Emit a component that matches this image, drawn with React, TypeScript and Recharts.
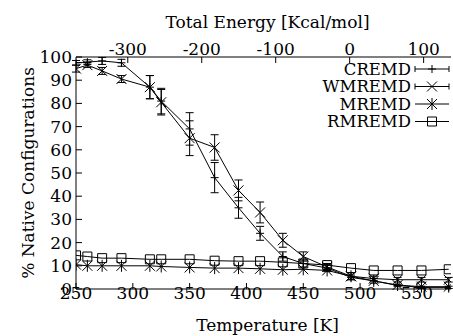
import React from 'react';
import { LineChart, Line, XAxis, YAxis, ErrorBar } from 'recharts';

const temps = [250, 260, 273, 290, 315, 325, 350, 372, 393, 412, 432, 450, 471, 492, 512, 533, 554, 578];
const cremd = [97.5, 97.8, 98.3, 97.5, 87, 81, 69, 48, 35, 24, 14, 11, 9, 5, 3.5, 1.5, 0.7, 0.7];
const cremdErr = [1, 1, 1.5, 1.5, 5, 5.5, 7, 6.5, 4.5, 3, 2, 1.5, 1.5, 1, 1, 0.5, 0.5, 0.5];
const wmremd = [95, 96.5, 94, 90.5, 87, 80.5, 65, 61, 42.5, 33, 21, 14, 9.5, 5.5, 4.5, 4, 4, 4];
const wmremdErr = [1.5, 1, 1.5, 1.5, 5, 5.5, 7.5, 5.5, 4.5, 4.5, 3, 2, 1.5, 1.5, 1, 1, 1, 1];
const mremd = [10.5, 10, 10, 10, 10, 9.7, 9.3, 9, 9, 8.7, 8.3, 8.5, 8, 5.5, 3.5, 1.7, 1, 1];
const rmremd = [14.5, 14, 13.3, 13.3, 12.8, 12.8, 12.8, 12.2, 12, 12, 11.5, 11, 10.3, 9, 8, 8, 8, 8.5];

const tempTicks = [250, 300, 350, 400, 450, 500, 550];
const energyTicks = [-300, -200, -100, 0, 100];
const pctTicks = [0, 10, 20, 30, 40, 50, 60, 70, 80, 90, 100];

// top energy axis spans roughly -370..137 kcal/mol across the 250..580 K range
const E_MIN = -370;
const E_MAX = 137;
const T_MIN = 250;
const T_MAX = 580;
const eToT = (e: number) => T_MIN + ((e - E_MIN) / (E_MAX - E_MIN)) * (T_MAX - T_MIN);
const energyTickPos = energyTicks.map(eToT);

const data = temps.map((t, i) => ({
  T: t,
  cremd: cremd[i],
  cremdErr: cremdErr[i],
  wmremd: wmremd[i],
  wmremdErr: wmremdErr[i],
  mremd: mremd[i],
  rmremd: rmremd[i],
}));

const FONT = 'DejaVu Serif';
const tickStyle = { fontFamily: FONT, fontSize: 17, fill: '#000' };

// marker shapes
const plusPath = (x: number, y: number) => `M${x - 4},${y}h8M${x},${y - 4}v8`;
const crossPath = (x: number, y: number) => `M${x - 5},${y - 5}l10,10M${x - 5},${y + 5}l10,-10`;
const starPath = (x: number, y: number) => `${crossPath(x, y)}M${x},${y - 6}v12`;
const squarePath = (x: number, y: number) => `M${x - 4.5},${y - 4.5}h9v9h-9z`;

const makeDot = (shape: (x: number, y: number) => string) => (p: any) => (
  <path key={`d-${p.index}`} d={shape(p.cx, p.cy)} stroke="#000" strokeWidth={1} fill="none" />
);

const legendRows = [
  { name: 'CREMD', shape: plusPath, caps: true },
  { name: 'WMREMD', shape: crossPath, caps: true },
  { name: 'MREMD', shape: starPath, caps: false },
  { name: 'RMREMD', shape: squarePath, caps: false },
];

const LegendBox = () => (
  <svg width={453} height={80} style={{ position: 'absolute', left: 0, top: 58, pointerEvents: 'none' }}>
    {legendRows.map((r, i) => {
      const y = 11 + i * 17.5;
      return (
        <g key={r.name}>
          <text x={411} y={y} textAnchor="end" dominantBaseline="central" style={{ fontFamily: FONT, fontSize: 16.5 }} fill="#000">
            {r.name}
          </text>
          <path d={`M415,${y}H449`} stroke="#000" />
          {r.caps && <path d={`M415,${y - 3}v6M449,${y - 3}v6`} stroke="#000" />}
          <path d={r.shape(432, y)} stroke="#000" fill="none" />
        </g>
      );
    })}
  </svg>
);

export default function App() {
  return (
    <div style={{ position: 'fixed', left: 0, top: 0, width: 453, height: 336, background: '#fff' }}>
      <LineChart width={453} height={336} data={data} margin={{ top: 0, right: 2, bottom: 0, left: 0 }}>
        <XAxis
          xAxisId="bottom"
          dataKey="T"
          type="number"
          domain={[T_MIN, T_MAX]}
          ticks={tempTicks}
          interval={0}
          allowDataOverflow
          height={47}
          tickSize={-6}
          tickMargin={4}
          tick={tickStyle}
          stroke="#000"
          label={{ value: 'Temperature [K]', position: 'insideBottom', offset: 5, dx: 4, style: tickStyle }}
        />
        <XAxis
          xAxisId="top"
          orientation="top"
          dataKey="T"
          type="number"
          domain={[T_MIN, T_MAX]}
          ticks={energyTickPos}
          interval={0}
          tickFormatter={(v: number) => String(energyTicks[energyTickPos.indexOf(v)])}
          allowDataOverflow
          height={57}
          tickSize={-6}
          tickMargin={8}
          tick={tickStyle}
          stroke="#000"
          label={{ value: 'Total Energy [Kcal/mol]', position: 'insideTop', offset: 16, dx: 4, style: tickStyle }}
        />
        <YAxis
          yAxisId="left"
          type="number"
          domain={[0, 100]}
          ticks={pctTicks}
          interval={0}
          width={76}
          tickSize={-6}
          tickMargin={10}
          tick={tickStyle}
          stroke="#000"
          label={{ value: '% Native Configurations', angle: -90, position: 'insideLeft', offset: 22, dx: 6, style: { ...tickStyle, textAnchor: 'middle' } }}
        />
        <YAxis
          yAxisId="right"
          orientation="right"
          type="number"
          domain={[0, 100]}
          ticks={pctTicks}
          interval={0}
          width={0}
          tickSize={-6}
          tick={false}
          stroke="#000"
        />
        {/* invisible series so the top axis has data bound to it */}
        <Line xAxisId="top" yAxisId="right" dataKey="rmremd" stroke="none" dot={false} activeDot={false} legendType="none" isAnimationActive={false} />
        <Line xAxisId="bottom" yAxisId="left" dataKey="cremd" name="CREMD" stroke="#000" strokeWidth={1} dot={makeDot(plusPath)} isAnimationActive={false}>
          <ErrorBar dataKey="cremdErr" direction="y" width={4} stroke="#000" strokeWidth={1} isAnimationActive={false} />
        </Line>
        <Line xAxisId="bottom" yAxisId="left" dataKey="wmremd" name="WMREMD" stroke="#000" strokeWidth={1} dot={makeDot(crossPath)} isAnimationActive={false}>
          <ErrorBar dataKey="wmremdErr" direction="y" width={4} stroke="#000" strokeWidth={1} isAnimationActive={false} />
        </Line>
        <Line xAxisId="bottom" yAxisId="left" dataKey="mremd" name="MREMD" stroke="#000" strokeWidth={1} dot={makeDot(starPath)} isAnimationActive={false} />
        <Line xAxisId="bottom" yAxisId="left" dataKey="rmremd" name="RMREMD" stroke="#000" strokeWidth={1} dot={makeDot(squarePath)} isAnimationActive={false} />
      </LineChart>
      <LegendBox />
    </div>
  );
}
